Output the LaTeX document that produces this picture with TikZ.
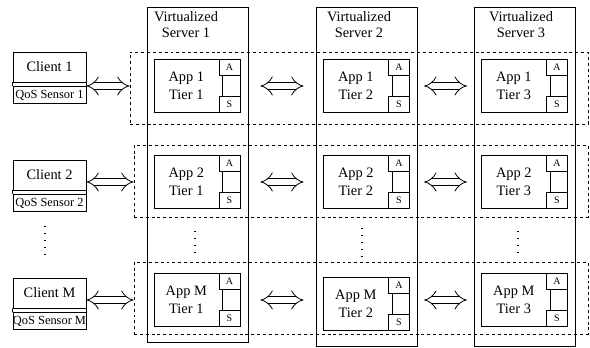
\documentclass[tikz,border=0pt]{standalone}
\usepackage{fontspec}
\setmainfont{Liberation Serif}
\usetikzlibrary{arrows.meta,positioning}

\begin{document}
\begin{tikzpicture}[x=0.75pt, y=-0.75pt, line width=0.6pt,
    server/.style={rectangle, draw, minimum width=75.75pt, minimum height=254.25pt, inner sep=0pt},
    tier/.style={rectangle, draw, dash pattern=on 2.2pt off 2.2pt, minimum width=340.5pt, minimum height=54pt, inner sep=0pt},
    app/.style={rectangle, draw, minimum width=64.5pt, minimum height=39.5pt, inner sep=0pt},
    abox/.style={rectangle, draw, minimum width=15.75pt, minimum height=12pt, inner sep=0pt, font=\fontsize{7.5}{8}\selectfont},
    apptext/.style={align=center, inner sep=0pt, font=\fontsize{10.8}{13.5}\selectfont},
    client/.style={rectangle, draw, minimum width=54.75pt, minimum height=22.5pt, inner sep=0pt, font=\fontsize{10.8}{13}\selectfont},
    sensor/.style={rectangle, draw, minimum width=54.75pt, minimum height=12.75pt, inner sep=0pt, font=\fontsize{9.3}{10}\selectfont},
    srvtitle/.style={align=center, anchor=north, inner sep=0pt, font=\fontsize{10.8}{12}\selectfont},
    link/.style={double, double distance=4.5pt, {Implies}-{Implies}},
    vdots/.style={line width=2pt, dash pattern=on 0.5pt off 4.7pt}
]
\useasboundingbox (0,0) rectangle (590,348);

% servers
\node[server, minimum height=251.25pt] (srv1) at (197.5,174.5) {};
\node[server] (srv2) at (366.5,176.5) {};
\node[server] (srv3) at (524.5,176.5) {};
\node[srvtitle] (ttl1) at (186,11) {Virtualized\\Server 1};
\node[srvtitle] (ttl2) at (359,11) {Virtualized\\Server 2};
\node[srvtitle] (ttl3) at (521,11) {Virtualized\\Server 3};

% application rows
\node[tier, minimum width=343.5pt] (row1) at (359,88) {};
\node[tier] (row2) at (361,181) {};
\node[tier] (rowm) at (361,298) {};

% row 1
\node[app] (a11) at (197,86) {};
\node[abox, anchor=north east] (a11a) at (a11.north east) {A};
\node[abox, anchor=south east] (a11s) at (a11.south east) {S};
\draw ([xshift=3pt]a11a.south west) -- ([xshift=3pt]a11s.north west);
\node[apptext] (t11) at ([xshift=-8pt]a11.center) {App 1\\Tier 1};
\node[app] (a12) at (366.5,86) {};
\node[abox, anchor=north east] (a12a) at (a12.north east) {A};
\node[abox, anchor=south east] (a12s) at (a12.south east) {S};
\draw ([xshift=3pt]a12a.south west) -- ([xshift=3pt]a12s.north west);
\node[apptext] (t12) at ([xshift=-8pt]a12.center) {App 1\\Tier 2};
\node[app] (a13) at (524.5,86) {};
\node[abox, anchor=north east] (a13a) at (a13.north east) {A};
\node[abox, anchor=south east] (a13s) at (a13.south east) {S};
\draw ([xshift=3pt]a13a.south west) -- ([xshift=3pt]a13s.north west);
\node[apptext] (t13) at ([xshift=-8pt]a13.center) {App 1\\Tier 3};

% row 2
\node[app] (a21) at (197,182) {};
\node[abox, anchor=north east] (a21a) at (a21.north east) {A};
\node[abox, anchor=south east] (a21s) at (a21.south east) {S};
\draw ([xshift=3pt]a21a.south west) -- ([xshift=3pt]a21s.north west);
\node[apptext] (t21) at ([xshift=-8pt]a21.center) {App 2\\Tier 1};
\node[app] (a22) at (366.5,182) {};
\node[abox, anchor=north east] (a22a) at (a22.north east) {A};
\node[abox, anchor=south east] (a22s) at (a22.south east) {S};
\draw ([xshift=3pt]a22a.south west) -- ([xshift=3pt]a22s.north west);
\node[apptext] (t22) at ([xshift=-8pt]a22.center) {App 2\\Tier 2};
\node[app] (a23) at (524.5,182) {};
\node[abox, anchor=north east] (a23a) at (a23.north east) {A};
\node[abox, anchor=south east] (a23s) at (a23.south east) {S};
\draw ([xshift=3pt]a23a.south west) -- ([xshift=3pt]a23s.north west);
\node[apptext] (t23) at ([xshift=-8pt]a23.center) {App 2\\Tier 3};

% row M
\node[app] (am1) at (197,300) {};
\node[abox, anchor=north east] (am1a) at (am1.north east) {A};
\node[abox, anchor=south east] (am1s) at (am1.south east) {S};
\draw ([xshift=3pt]am1a.south west) -- ([xshift=3pt]am1s.north west);
\node[apptext] (tm1) at ([xshift=-8pt]am1.center) {App M\\Tier 1};
\node[app] (am2) at (366.5,304) {};
\node[abox, anchor=north east] (am2a) at (am2.north east) {A};
\node[abox, anchor=south east] (am2s) at (am2.south east) {S};
\draw ([xshift=3pt]am2a.south west) -- ([xshift=3pt]am2s.north west);
\node[apptext] (tm2) at ([xshift=-8pt]am2.center) {App M\\Tier 2};
\node[app] (am3) at (524.5,300) {};
\node[abox, anchor=north east] (am3a) at (am3.north east) {A};
\node[abox, anchor=south east] (am3s) at (am3.south east) {S};
\draw ([xshift=3pt]am3a.south west) -- ([xshift=3pt]am3s.north west);
\node[apptext] (tm3) at ([xshift=-8pt]am3.center) {App M\\Tier 3};

% clients
\node[client] (cn1) at (49.5,67) {Client 1};
\node[sensor, below=3pt of cn1] (qs1) {QoS Sensor 1};
\node[client] (cn2) at (49.5,175) {Client 2};
\node[sensor, below=3pt of cn2] (qs2) {QoS Sensor 2};
\node[client] (cnm) at (49.5,293) {Client M};
\node[sensor, below=3pt of cnm] (qsm) {QoS Sensor M};
\draw (cn1.south west) -- (qs1.north west) (cn1.south east) -- (qs1.north east);
\draw (cn2.south west) -- (qs2.north west) (cn2.south east) -- (qs2.north east);
\draw (cnm.south west) -- (qsm.north west) (cnm.south east) -- (qsm.north east);

% links
\draw[link] (cn1.east |- a11.center) -- (row1.west |- a11.center);
\draw[link] (cn2.east |- a21.center) -- (row2.west |- a21.center);
\draw[link] (cnm.east |- am1.center) -- (rowm.west |- am1.center);
\draw[link, shorten <=9pt, shorten >=9pt] (srv1.east |- a11.center) -- (srv2.west |- a11.center);
\draw[link, shorten <=5pt, shorten >=5pt] (srv2.east |- a11.center) -- (srv3.west |- a11.center);
\draw[link, shorten <=9pt, shorten >=9pt] (srv1.east |- a21.center) -- (srv2.west |- a21.center);
\draw[link, shorten <=5pt, shorten >=5pt] (srv2.east |- a21.center) -- (srv3.west |- a21.center);
\draw[link, shorten <=9pt, shorten >=9pt] (srv1.east |- am1.center) -- (srv2.west |- am1.center);
\draw[link, shorten <=5pt, shorten >=5pt] (srv2.east |- am1.center) -- (srv3.west |- am1.center);

% vertical dots
\draw[vdots] (45,226) -- (45,260);
\draw[vdots] (195,231) -- (195,256);
\draw[vdots] (362,228) -- (362,256);
\draw[vdots] (518,231) -- (518,256);
\end{tikzpicture}
\end{document}
